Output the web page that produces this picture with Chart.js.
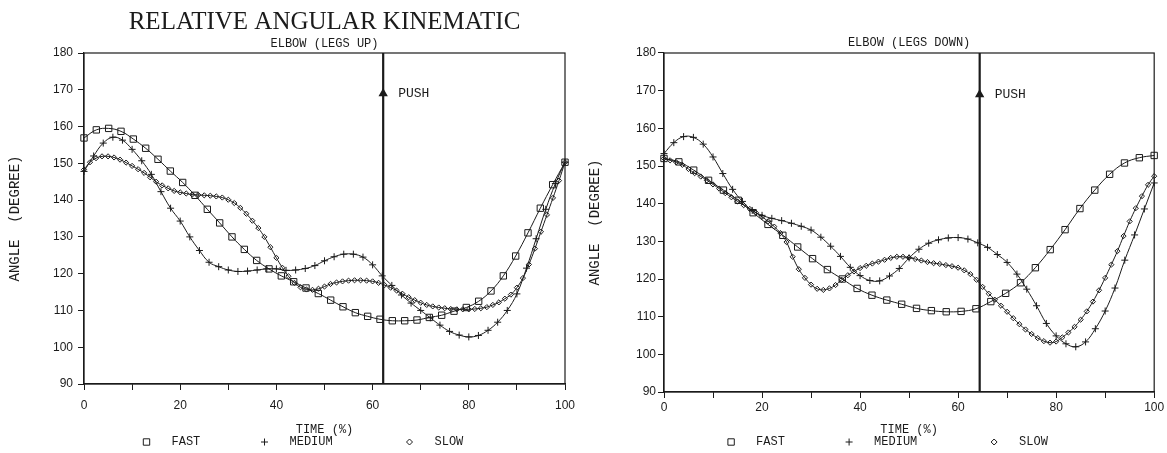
<!DOCTYPE html>
<html>
<head>
<meta charset="utf-8">
<title>Relative angular kinematic</title>
<script src="https://cdn.jsdelivr.net/npm/chart.js@4.4.1/dist/chart.umd.min.js"></script>
<style>
  html, body { margin: 0; padding: 0; background: #fff; }
  body { position: relative; width: 1167px; height: 453px; overflow: hidden; }
  .panel { position: absolute; top: 0; height: 453px; }
  #panelUp { left: 0; width: 610px; }
  #panelDown { left: 585px; width: 582px; }
</style>
</head>
<body>
<div class="panel" id="panelUp"><canvas id="legsUpChart"></canvas></div>
<div class="panel" id="panelDown"><canvas id="legsDownChart"></canvas></div>
<script>
const ink = "#1b1b1b"
const monoFont = '"Liberation Mono", "DejaVu Sans Mono", monospace'
const serifFont = '"Liberation Serif", "DejaVu Serif", serif'
const tickFont = '"Liberation Sans", Arial, sans-serif'

const seriesNames = ["FAST", "MEDIUM", "SLOW"]
const pushMarker = 169

// ELBOW (LEGS UP) - fast sampled 40x, medium 51x, slow 81x over 0..100 %
const upFast = [
  156.9, 159.1, 159.5, 158.7, 156.6, 154.1, 151.1, 147.9, 144.8, 141.3,
  137.5, 133.8, 130.0, 126.6, 123.6, 121.3, 119.4, 117.8, 116.1, 114.6,
  112.8, 111.0, 109.4, 108.4, 107.6, 107.2, 107.2, 107.4, 108.1, 108.7,
  109.8, 110.8, 112.5, 115.3, 119.4, 124.8, 131.1, 137.8, 144.2, 150.3,
]
const upMedium = [
  147.8, 152.0, 155.5, 157.1, 156.3, 153.8, 150.7, 147.0, 142.3, 137.8,
  134.3, 130.0, 126.3, 123.1, 121.9, 121.0, 120.6, 120.7, 121.0, 121.3,
  121.3, 120.9, 121.0, 121.4, 122.2, 123.5, 124.6, 125.3, 125.3, 124.5,
  122.4, 119.4, 116.8, 114.2, 112.0, 110.0, 108.0, 106.0, 104.3, 103.3,
  102.8, 103.2, 104.6, 106.8, 110.0, 114.5, 121.5, 129.5, 137.5, 144.5,
  150.3,
]
const upSlow = [
  148.3, 150.3, 151.4, 151.9, 151.9, 151.6, 151.0, 150.2, 149.3, 148.4,
  147.4, 146.2, 145.0, 144.0, 143.2, 142.5, 142.1, 141.8, 141.5, 141.4,
  141.3, 141.2, 141.0, 140.7, 140.1, 139.2, 137.9, 136.3, 134.4, 132.4,
  130.0, 127.2, 124.3, 121.6, 119.3, 117.5, 116.3, 115.7, 115.6, 115.9,
  116.5, 117.2, 117.6, 117.9, 118.1, 118.2, 118.2, 118.1, 117.9, 117.5,
  116.9, 116.2, 115.4, 114.5, 113.6, 112.8, 112.1, 111.5, 111.1, 110.8,
  110.6, 110.4, 110.3, 110.3, 110.3, 110.4, 110.6, 110.9, 111.5, 112.2,
  113.2, 114.3, 116.2, 118.8, 122.5, 126.8, 131.4, 136.0, 140.6, 145.3,
  150.3,
]
const upPush = 62.2

// ELBOW (LEGS DOWN) - fast sampled 34x, medium 51x, slow 81x
const downFast = [
  152.0, 151.1, 148.9, 146.2, 143.6, 140.9, 137.6, 134.5, 131.6, 128.5,
  125.4, 122.5, 120.0, 117.5, 115.7, 114.4, 113.3, 112.2, 111.6, 111.3,
  111.4, 112.1, 114.0, 116.2, 119.0, 123.0, 127.8, 133.1, 138.7, 143.6,
  147.8, 150.8, 152.2, 152.8,
]
const downMedium = [
  153.3, 156.2, 157.8, 157.6, 155.8, 152.4, 148.0, 143.8, 140.6, 138.2,
  136.9, 136.1, 135.5, 134.8, 134.0, 133.0, 131.1, 128.7, 126.0, 123.1,
  120.9, 119.6, 119.5, 120.8, 122.8, 125.6, 127.9, 129.5, 130.4, 130.9,
  131.0, 130.6, 129.6, 128.4, 126.5, 124.4, 121.3, 117.3, 112.9, 108.2,
  104.9, 102.8, 102.0, 103.3, 106.8, 111.5, 117.6, 125.0, 131.7, 138.6,
  145.5,
]
const downSlow = [
  152.0, 151.5, 151.0, 150.3, 149.2, 148.1, 147.2, 146.2, 145.1, 144.0,
  142.8, 141.7, 140.6, 139.6, 138.6, 137.6, 136.5, 135.3, 133.9, 132.2,
  129.8, 125.9, 122.6, 120.3, 118.5, 117.4, 117.1, 117.5, 118.4, 119.8,
  121.0, 122.0, 122.9, 123.5, 124.1, 124.6, 125.1, 125.6, 125.9, 125.9,
  125.7, 125.3, 124.9, 124.5, 124.2, 124.0, 123.7, 123.4, 123.0, 122.3,
  121.3, 119.8, 117.9, 116.1, 114.5, 112.9, 111.3, 109.6, 108.0, 106.6,
  105.4, 104.3, 103.5, 103.1, 103.4, 104.5, 105.8, 107.3, 109.2, 111.4,
  114.0, 117.0, 120.3, 123.8, 127.4, 131.4, 135.3, 138.8, 142.0, 145.0,
  147.3,
]
const downPush = 64.4

// samples are evenly spaced over the cycle
function toPoints(values) {
  return values.map((v, i) => ({ x: (i * 100) / (values.length - 1), y: v }))
}

// legend markers, drawn like the plot symbols
const legendOffsets = [-178, -60, 85]
function drawMarker(ctx, style, x, y) {
  ctx.beginPath()
  if (style === "rect") {
    ctx.rect(x - 3.2, y - 3.2, 6.4, 6.4)
  } else if (style === "cross") {
    ctx.moveTo(x - 3.5, y)
    ctx.lineTo(x + 3.5, y)
    ctx.moveTo(x, y - 3.5)
    ctx.lineTo(x, y + 3.5)
  } else {
    ctx.moveTo(x - 3, y)
    ctx.lineTo(x, y - 3)
    ctx.lineTo(x + 3, y)
    ctx.lineTo(x, y + 3)
    ctx.closePath()
  }
  ctx.stroke()
}

const elbowDecor = {
  id: "elbowDecor",
  afterDatasetsDraw(chart, args, opts) {
    const { ctx, chartArea: area, scales } = chart
    ctx.save()
    // closed frame round the plot
    ctx.strokeStyle = ink
    ctx.lineWidth = 1.2
    ctx.strokeRect(area.left, area.top, area.right - area.left, area.bottom - area.top)
    ctx.fillStyle = ink
    ctx.textBaseline = "middle"
    ctx.textAlign = "left"
    ctx.font = "13px " + monoFont
    ctx.fillText("PUSH", scales.x.getPixelForValue(opts.push) + 15, scales.y.getPixelForValue(pushMarker))
    // legend row
    const mid = (area.left + area.right) / 2
    ctx.font = "12px " + monoFont
    ctx.lineWidth = 1
    seriesNames.forEach((name, i) => {
      const mx = mid + legendOffsets[i]
      drawMarker(ctx, chart.data.datasets[i].pointStyle, mx, opts.legendY)
      ctx.fillText(name, mx + 25, opts.legendY)
    })
    ctx.restore()
  },
}

const markerStyles = [
  { pointStyle: "rect", pointRadius: 4.5 },
  { pointStyle: "cross", pointRadius: 3.5 },
  { pointStyle: "rectRot", pointRadius: 2.6 },
]

function buildChart(canvasId, cfg) {
  const datasets = cfg.series.map((values, i) => ({
    label: seriesNames[i],
    data: toPoints(values),
    borderColor: ink,
    borderWidth: 1,
    pointBorderColor: ink,
    pointBackgroundColor: "rgba(255,255,255,0)",
    pointBorderWidth: 1,
    tension: 0.4,
    clip: false,
    ...markerStyles[i],
  }))
  datasets.push({
    label: "PUSH",
    data: [{ x: cfg.push, y: 90 }, { x: cfg.push, y: pushMarker }, { x: cfg.push, y: 180 }],
    borderColor: ink,
    borderWidth: 2.2,
    pointStyle: "triangle",
    pointRadius: [0, 3.2, 0],
    pointBackgroundColor: ink,
    pointBorderColor: ink,
    tension: 0,
  })

  return new Chart(document.getElementById(canvasId), {
    type: "line",
    data: { datasets },
    plugins: [elbowDecor],
    options: {
      responsive: true,
      maintainAspectRatio: false,
      animation: false,
      events: [],
      layout: { padding: { left: 0, right: cfg.padRight, top: 0, bottom: 15.8 } },
      plugins: {
        legend: { display: false },
        tooltip: { enabled: false },
        title: {
          display: !!cfg.title,
          text: cfg.title || "",
          fullSize: false,
          color: ink,
          font: { family: serifFont, size: 25, weight: "normal" },
          padding: { top: 7, bottom: 0 },
        },
        subtitle: {
          display: true,
          text: cfg.subtitle,
          fullSize: false,
          color: ink,
          font: { family: monoFont, size: 12, weight: "normal" },
          padding: cfg.subtitlePadding,
        },
        elbowDecor: { push: cfg.push, legendY: 442 },
      },
      scales: {
        x: {
          type: "linear",
          min: 0,
          max: 100,
          ticks: {
            stepSize: 10,
            autoSkip: false,
            maxRotation: 0,
            padding: cfg.xTickPad,
            color: ink,
            font: { family: tickFont, size: 12 },
            callback: (v) => (v % 20 === 0 ? v : ""),
          },
          grid: { drawOnChartArea: false, drawTicks: true, tickLength: 6, color: ink },
          border: { display: true, color: ink, width: 1.2 },
          title: {
            display: true,
            text: "TIME (%)",
            color: ink,
            font: { family: monoFont, size: 12 },
            padding: { top: cfg.xTitlePad, bottom: 0 },
          },
        },
        y: {
          min: 90,
          max: 180,
          ticks: {
            stepSize: 10,
            padding: cfg.yTickPad,
            color: ink,
            font: { family: tickFont, size: 12 },
          },
          grid: { drawOnChartArea: false, drawTicks: true, tickLength: 6, color: ink },
          border: { display: true, color: ink, width: 1.2 },
          title: {
            display: true,
            text: "ANGLE  (DEGREE)",
            color: ink,
            font: { family: monoFont, size: 14 },
            padding: { top: cfg.yTitlePad, bottom: 0 },
          },
          afterFit: (scale) => {
            scale.width = cfg.axisWidth
          },
        },
      },
    },
  })
}

document.addEventListener("DOMContentLoaded", () => {
  buildChart("legsUpChart", {
    title: "RELATIVE ANGULAR KINEMATIC",
    subtitle: "ELBOW (LEGS UP)",
    subtitlePadding: { top: 0, bottom: 1.6 },
    series: [upFast, upMedium, upSlow],
    push: upPush,
    axisWidth: 84,
    padRight: 45,
    xTickPad: 8.8,
    xTitlePad: 0.8,
    yTickPad: 5,
    yTitlePad: 6.6,
  })
  buildChart("legsDownChart", {
    subtitle: "ELBOW (LEGS DOWN)",
    subtitlePadding: { top: 35.8, bottom: 2.8 },
    series: [downFast, downMedium, downSlow],
    push: downPush,
    axisWidth: 79,
    padRight: 11,
    xTickPad: 2.8,
    xTitlePad: 4.8,
    yTickPad: 2,
    yTitlePad: 1.6,
  })
})
</script>
</body>
</html>
